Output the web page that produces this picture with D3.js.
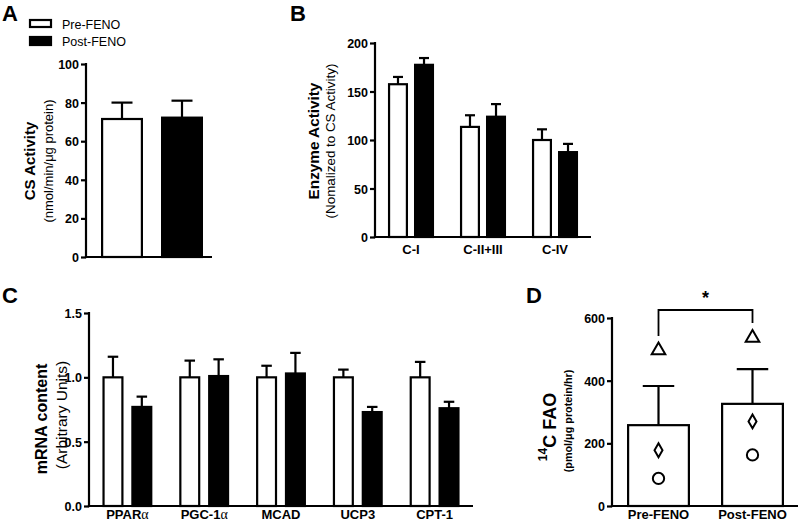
<!DOCTYPE html>
<html>
<head>
<meta charset="utf-8">
<script src="https://cdn.jsdelivr.net/npm/d3@7"></script>
<style>
  html, body { margin: 0; padding: 0; background: #fff; }
  svg { display: block; font-family: "Liberation Sans", Arial, Helvetica, sans-serif; }
</style>
</head>
<body>
<svg id="chart" width="800" height="523"></svg>
<script>
// ---------------- DATA ----------------
const seriesNames = ["Pre-FENO", "Post-FENO"];

// Panel A: CS activity
const aPre = [71.5];
const aPreSem = [8.5];
const aPost = [72.2];
const aPostSem = [8.8];
const aTicks = [0, 20, 40, 60, 80, 100];

// Panel B: enzyme activity normalized to CS
const bCategories = ["C-I", "C-II+III", "C-IV"];
const bPre = [157.5, 113.5, 100];
const bPreSem = [7.5, 12, 11];
const bPost = [177.5, 124, 87.5];
const bPostSem = [7, 13, 8.5];
const bTicks = [0, 50, 100, 150, 200];

// Panel C: mRNA content
const cCategories = ["PPARα", "PGC-1α", "MCAD", "UCP3", "CPT-1"];
const cPre = [1.0, 1.0, 1.0, 1.0, 1.0];
const cPreSem = [0.16, 0.13, 0.09, 0.06, 0.12];
const cPost = [0.77, 1.01, 1.03, 0.73, 0.76];
const cPostSem = [0.08, 0.13, 0.16, 0.04, 0.05];
const cTicks = [0, 0.5, 1.0, 1.5];

// Panel D: 14C FAO
const dCategories = ["Pre-FENO", "Post-FENO"];
const dMeans = [258, 326];
const dSem = [125, 111];
const dTriangle = [500, 540];
const dDiamond = [178, 270];
const dCircle = [88, 163];
const dTicks = [0, 200, 400, 600];

// ---------------- DRAWING ----------------
const svg = d3.select("#chart");
const SW = 2.2;
const tickFont = 12.5;

function panelAxes(g, y, ticks, fmt, x0, x1) {
  const ax = g.append("g")
    .attr("transform", `translate(${x0},0)`)
    .call(d3.axisLeft(y).tickValues(ticks).tickFormat(fmt).tickSize(5).tickSizeOuter(0).tickPadding(2));
  ax.select(".domain").attr("stroke", "#000").attr("stroke-width", SW);
  ax.selectAll(".tick line").attr("stroke", "#000").attr("stroke-width", SW);
  ax.selectAll(".tick text")
    .attr("fill", "#000")
    .style("font-family", "'Liberation Sans', Arial, sans-serif")
    .style("font-weight", "bold")
    .style("font-size", tickFont + "px")
    .attr("dy", "0.36em");
  ax.select(".domain").attr("d", `M0,${y.range()[1] - 1}V${y.range()[0] + SW / 2}`);
  g.append("line")
    .attr("x1", x0 - SW / 2).attr("x2", x1)
    .attr("y1", y(0)).attr("y2", y(0))
    .attr("stroke", "#000").attr("stroke-width", SW);
}

function drawBar(g, x, w, y, v, sem, fill) {
  const top = y(v), base = y(0);
  g.append("line")
    .attr("x1", x + w / 2).attr("x2", x + w / 2)
    .attr("y1", top).attr("y2", y(v + sem))
    .attr("stroke", "#000").attr("stroke-width", SW);
  g.append("line")
    .attr("x1", x + w / 4).attr("x2", x + 3 * w / 4)
    .attr("y1", y(v + sem)).attr("y2", y(v + sem))
    .attr("stroke", "#000").attr("stroke-width", SW);
  g.append("rect")
    .attr("x", x + SW / 2).attr("y", top)
    .attr("width", w - SW).attr("height", base - top)
    .attr("fill", fill).attr("stroke", "#000").attr("stroke-width", SW);
}

function yTitle(g, cx, cy, text, size, weight) {
  return g.append("text")
    .attr("transform", `translate(${cx},${cy}) rotate(-90)`)
    .attr("text-anchor", "middle")
    .attr("dominant-baseline", "central")
    .style("font-size", size + "px")
    .style("font-weight", weight)
    .text(text);
}

function panelLetter(x, y, t) {
  svg.append("text").attr("x", x).attr("y", y)
    .style("font-size", "22px").style("font-weight", "bold").text(t);
}

function groupedPanel(opts) {
  const g = svg.append("g");
  const y = d3.scaleLinear().domain([opts.ticks[0], opts.ticks[opts.ticks.length - 1]]).range([opts.yBottom, opts.yTop]);
  const x = d3.scaleBand().domain(opts.categories).range([opts.x0, opts.x1]).paddingInner(opts.groupPad).paddingOuter(opts.groupPad / 2);
  const xs = d3.scaleBand().domain(seriesNames).range([0, x.bandwidth()]).paddingInner(opts.barPad);
  opts.categories.forEach((c, i) => {
    drawBar(g, x(c) + xs(seriesNames[0]), xs.bandwidth(), y, opts.pre[i], opts.preSem[i], "#fff");
    drawBar(g, x(c) + xs(seriesNames[1]), xs.bandwidth(), y, opts.post[i], opts.postSem[i], "#000");
  });
  panelAxes(g, y, opts.ticks, opts.fmt, opts.x0, opts.x1);
  opts.categories.forEach(c => {
    const t = g.append("text")
      .attr("x", x(c) + x.bandwidth() / 2).attr("y", opts.labelY)
      .attr("text-anchor", "middle")
      .style("font-size", "13px").style("font-weight", "bold");
    const parts = c.split("α");
    t.append("tspan").text(parts[0]);
    if (parts.length > 1) {
      t.append("tspan").text("α")
        .style("font-family", "'Liberation Serif', 'DejaVu Serif', serif")
        .style("font-weight", "normal").style("font-size", "14px");
    }
  });
  return { g, x, y };
}

// ---- Panel A ----
panelLetter(2, 21, "A");
const leg = svg.append("g");
seriesNames.forEach((s, i) => {
  leg.append("rect")
    .attr("x", 30).attr("y", 20 + i * 17)
    .attr("width", 21).attr("height", i === 0 ? 7 : 8)
    .attr("fill", i === 0 ? "#fff" : "#000")
    .attr("stroke", "#000").attr("stroke-width", SW);
  leg.append("text")
    .attr("x", 62).attr("y", 29 + i * 17)
    .style("font-size", "12.5px").text(s);
});
{
  const g = svg.append("g");
  const y = d3.scaleLinear().domain([0, 100]).range([257, 64]);
  const x = d3.scaleBand().domain(seriesNames).range([92, 212]).paddingInner(0.3).paddingOuter(0.15);
  drawBar(g, x(seriesNames[0]), x.bandwidth(), y, aPre[0], aPreSem[0], "#fff");
  drawBar(g, x(seriesNames[1]), x.bandwidth(), y, aPost[0], aPostSem[0], "#000");
  panelAxes(g, y, aTicks, d3.format("d"), 86, 212);
  yTitle(g, 29, 161, "CS Activity", 15, "bold");
  yTitle(g, 48, 161, "(nmol/min/μg protein)", 13, "normal");
}

// ---- Panel B ----
panelLetter(290, 21, "B");
{
  const p = groupedPanel({
    categories: bCategories, pre: bPre, preSem: bPreSem, post: bPost, postSem: bPostSem,
    ticks: bTicks, fmt: d3.format("d"), yBottom: 237, yTop: 43,
    x0: 375, x1: 591, groupPad: 0.36, barPad: 0.23, labelY: 254
  });
  yTitle(p.g, 313, 141, "Enzyme Activity", 15.3, "bold");
  yTitle(p.g, 330, 141, "(Nomalized to CS Activity)", 13.4, "normal");
}

// ---- Panel C ----
panelLetter(2, 303, "C");
{
  const p = groupedPanel({
    categories: cCategories, pre: cPre, preSem: cPreSem, post: cPost, postSem: cPostSem,
    ticks: cTicks, fmt: d3.format(".1f"), yBottom: 506, yTop: 313,
    x0: 89, x1: 473, groupPad: 0.35, barPad: 0.27, labelY: 519
  });
  yTitle(p.g, 41, 419, "mRNA content", 16, "bold");
  yTitle(p.g, 61, 415, "(Arbitrary Units)", 15.5, "normal");
}

// ---- Panel D ----
panelLetter(526, 303, "D");
{
  const g = svg.append("g");
  const y = d3.scaleLinear().domain([0, 600]).range([506, 318]);
  const x = d3.scaleBand().domain(dCategories).range([611.5, 799.5]).paddingInner(0.33).paddingOuter(0.165);
  dCategories.forEach((c, i) => {
    drawBar(g, x(c), x.bandwidth(), y, dMeans[i], dSem[i], "#fff");
  });
  panelAxes(g, y, dTicks, d3.format("d"), 612, 798);
  const sym = [
    { vals: dTriangle, type: d3.symbolTriangle, size: 80, dy: 1 },
    { vals: dDiamond, type: d3.symbolDiamond, size: 55, dy: 0 },
    { vals: dCircle, type: d3.symbolCircle, size: 100, dy: 0 }
  ];
  sym.forEach(s => {
    dCategories.forEach((c, i) => {
      g.append("path")
        .attr("d", d3.symbol().type(s.type).size(s.size)())
        .attr("transform", `translate(${x(c) + x.bandwidth() / 2},${y(s.vals[i]) + s.dy})`)
        .attr("fill", "#fff").attr("stroke", "#000").attr("stroke-width", 2);
    });
  });
  const cx0 = x(dCategories[0]) + x.bandwidth() / 2;
  const cx1 = x(dCategories[1]) + x.bandwidth() / 2;
  g.append("path")
    .attr("d", `M${cx0},336V310H${cx1}V323`)
    .attr("fill", "none").attr("stroke", "#000").attr("stroke-width", 1.8);
  g.append("text").attr("x", (cx0 + cx1) / 2).attr("y", 304)
    .attr("text-anchor", "middle").style("font-size", "18px").style("font-weight", "bold").text("*");
  dCategories.forEach(c => {
    g.append("text").attr("x", x(c) + x.bandwidth() / 2).attr("y", 519)
      .attr("text-anchor", "middle").style("font-size", "13px").style("font-weight", "bold").text(c);
  });
  const t = g.append("text")
    .attr("transform", `translate(550,427) rotate(-90)`)
    .attr("text-anchor", "middle").attr("dominant-baseline", "central")
    .style("font-size", "18px").style("font-weight", "bold");
  t.append("tspan").text("14").attr("baseline-shift", "super").style("font-size", "12px");
  t.append("tspan").text("C FAO");
  yTitle(g, 568, 421, "(pmol/μg protein/hr)", 10.8, "bold");
}
</script>
</body>
</html>
